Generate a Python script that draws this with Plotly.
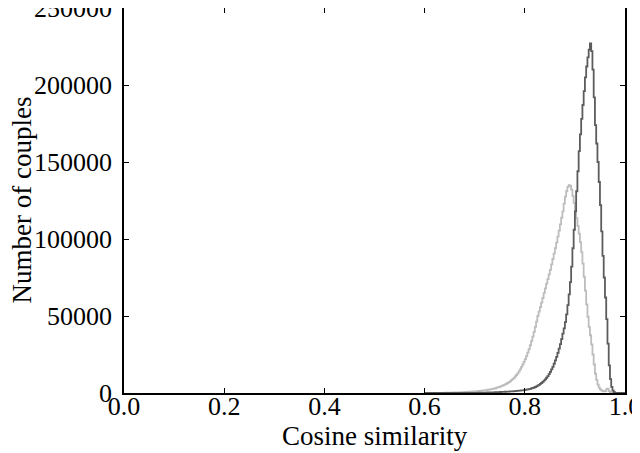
import numpy as np
import plotly.graph_objects as go

# histogram bins (left edges), width 0.0025 from 0.6 to 1.0
bin_width = 0.0025
bin_left = np.round(np.arange(0.600, 1.000 - 1e-9, bin_width), 4)

# counts per bin (10 bins per row = 0.025 of cosine)
couples_dark = [
    0, 0, 0, 0, 0, 0, 0, 0, 0, 0,
    0, 0, 0, 0, 0, 0, 0, 0, 0, 0,
    0, 0, 0, 0, 0, 0, 0, 0, 0, 0,
    0, 0, 0, 0, 0, 50, 50, 50, 80, 80,
    100, 120, 140, 160, 180, 200, 220, 250, 270, 300,
    320, 340, 370, 400, 430, 460, 500, 530, 560, 600,
    640, 680, 720, 760, 800, 850, 900, 950, 1000, 1060,
    1120, 1180, 1250, 1320, 1400, 1480, 1560, 1650, 1750, 1870,
    2000, 2150, 2300, 2500, 2700, 2950, 3250, 3550, 3900, 4300,
    4800, 5300, 5900, 6500, 7200, 8000, 8900, 9900, 11000, 12300,
    13700, 15300, 17000, 19000, 21200, 23500, 26000, 28800, 31800, 35000,
    38500, 42000, 46000, 51000, 57000, 64000, 72000, 82000, 94000, 106000,
    118000, 131000, 144000, 157000, 168000, 178000, 187000, 196000, 205000, 212000,
    218000, 223000, 227000, 222000, 210000, 192000, 174000, 162000, 150000, 137000,
    122000, 105000, 89000, 75000, 62000, 48000, 32000, 18000, 9000, 4000,
    1500, 500, 100, 0, 0, 0, 0, 0, 0, 0,
]
couples_light = [
    0, 0, 5, 10, 15, 20, 30, 40, 50, 60,
    70, 80, 95, 110, 125, 140, 160, 180, 200, 225,
    250, 270, 290, 310, 340, 370, 400, 430, 470, 510,
    560, 600, 650, 700, 750, 800, 850, 910, 970, 1030,
    1100, 1170, 1240, 1320, 1400, 1480, 1570, 1670, 1770, 1930,
    2100, 2250, 2400, 2550, 2700, 2900, 3100, 3350, 3600, 3900,
    4200, 4500, 4800, 5200, 5600, 6000, 6500, 7000, 7600, 8300,
    9000, 9800, 10700, 11700, 12800, 14000, 15400, 16900, 18500, 20200,
    22000, 24000, 26200, 28500, 31000, 33700, 36600, 39700, 43000, 46400,
    50000, 52800, 55700, 58700, 61700, 64800, 67900, 71000, 74000, 77000,
    80000, 83500, 87000, 90500, 94000, 97700, 101500, 105500, 109500, 113800,
    118000, 123000, 127500, 131000, 133800, 135000, 134500, 132000, 128000, 123500,
    118500, 113500, 108500, 103500, 98000, 91500, 84000, 75500, 66500, 57500,
    49500, 43000, 37500, 31500, 25000, 18500, 12500, 8500, 5500, 3500,
    2400, 1700, 1300, 1100, 1200, 2500, 2800, 1200, 500, 200,
    100, 50, 0, 0, 0, 0, 0, 0, 0, 0,
]

x_ticks = [0.0, 0.2, 0.4, 0.6, 0.8, 1.0]
y_ticks = [0, 50000, 100000, 150000, 200000, 250000]


def step_xy(counts):
    # outline of a step histogram: start at 0, each bin flat, close at last edge
    xs = list(bin_left) + [round(bin_left[-1] + bin_width, 4)]
    ys = list(counts) + [0]
    return [xs[0]] + xs, [0] + ys


fig = go.Figure()

xl, yl = step_xy(couples_light)
fig.add_trace(go.Scatter(x=xl, y=yl, mode="lines", line_shape="hv",
                         line=dict(color="#bdbdbd", width=1.8), showlegend=False))
xd, yd = step_xy(couples_dark)
fig.add_trace(go.Scatter(x=xd, y=yd, mode="lines", line_shape="hv",
                         line=dict(color="#5c5c5c", width=1.8), showlegend=False))

serif = "Liberation Serif, serif"
tick_font = dict(family=serif, size=26, color="black")
title_font = dict(family=serif, size=27, color="black")

# page body has an 8px margin, so the figure is a bit smaller than the window
fig.update_layout(
    width=632, height=445,
    margin=dict(l=116, r=15, t=0, b=60),
    paper_bgcolor="white", plot_bgcolor="white",
    font=tick_font,
)
fig.update_xaxes(
    range=[0, 1], tickvals=x_ticks, ticktext=[f"{v:.1f}" for v in x_ticks],
    ticks="inside", ticklen=5, tickwidth=1, tickcolor="black", tickfont=tick_font,
    showline=True, linecolor="black", linewidth=1.5, mirror="ticks",
    showgrid=False, zeroline=False, automargin=False,
    ticklabeloverflow="allow", ticklabelstandoff=-11,
)
fig.update_yaxes(
    range=[0, 250000], tickvals=y_ticks, ticktext=[str(v) for v in y_ticks],
    ticks="inside", ticklen=5, tickwidth=1, tickcolor="black", tickfont=tick_font,
    showline=True, linecolor="black", linewidth=1.5, mirror="ticks",
    showgrid=False, zeroline=False, automargin=False,
    ticklabeloverflow="allow", ticklabelstandoff=5,
)

fig.add_annotation(text="Cosine similarity", xref="paper", yref="paper",
                   x=0.5, y=0, xanchor="center", yanchor="middle", yshift=-43,
                   showarrow=False, font=title_font)
fig.add_annotation(text="Number of couples", xref="paper", yref="paper",
                   x=0, y=0.5, xanchor="center", yanchor="middle", xshift=-103,
                   textangle=-90, showarrow=False, font=title_font)

fig.write_html("out.html")
